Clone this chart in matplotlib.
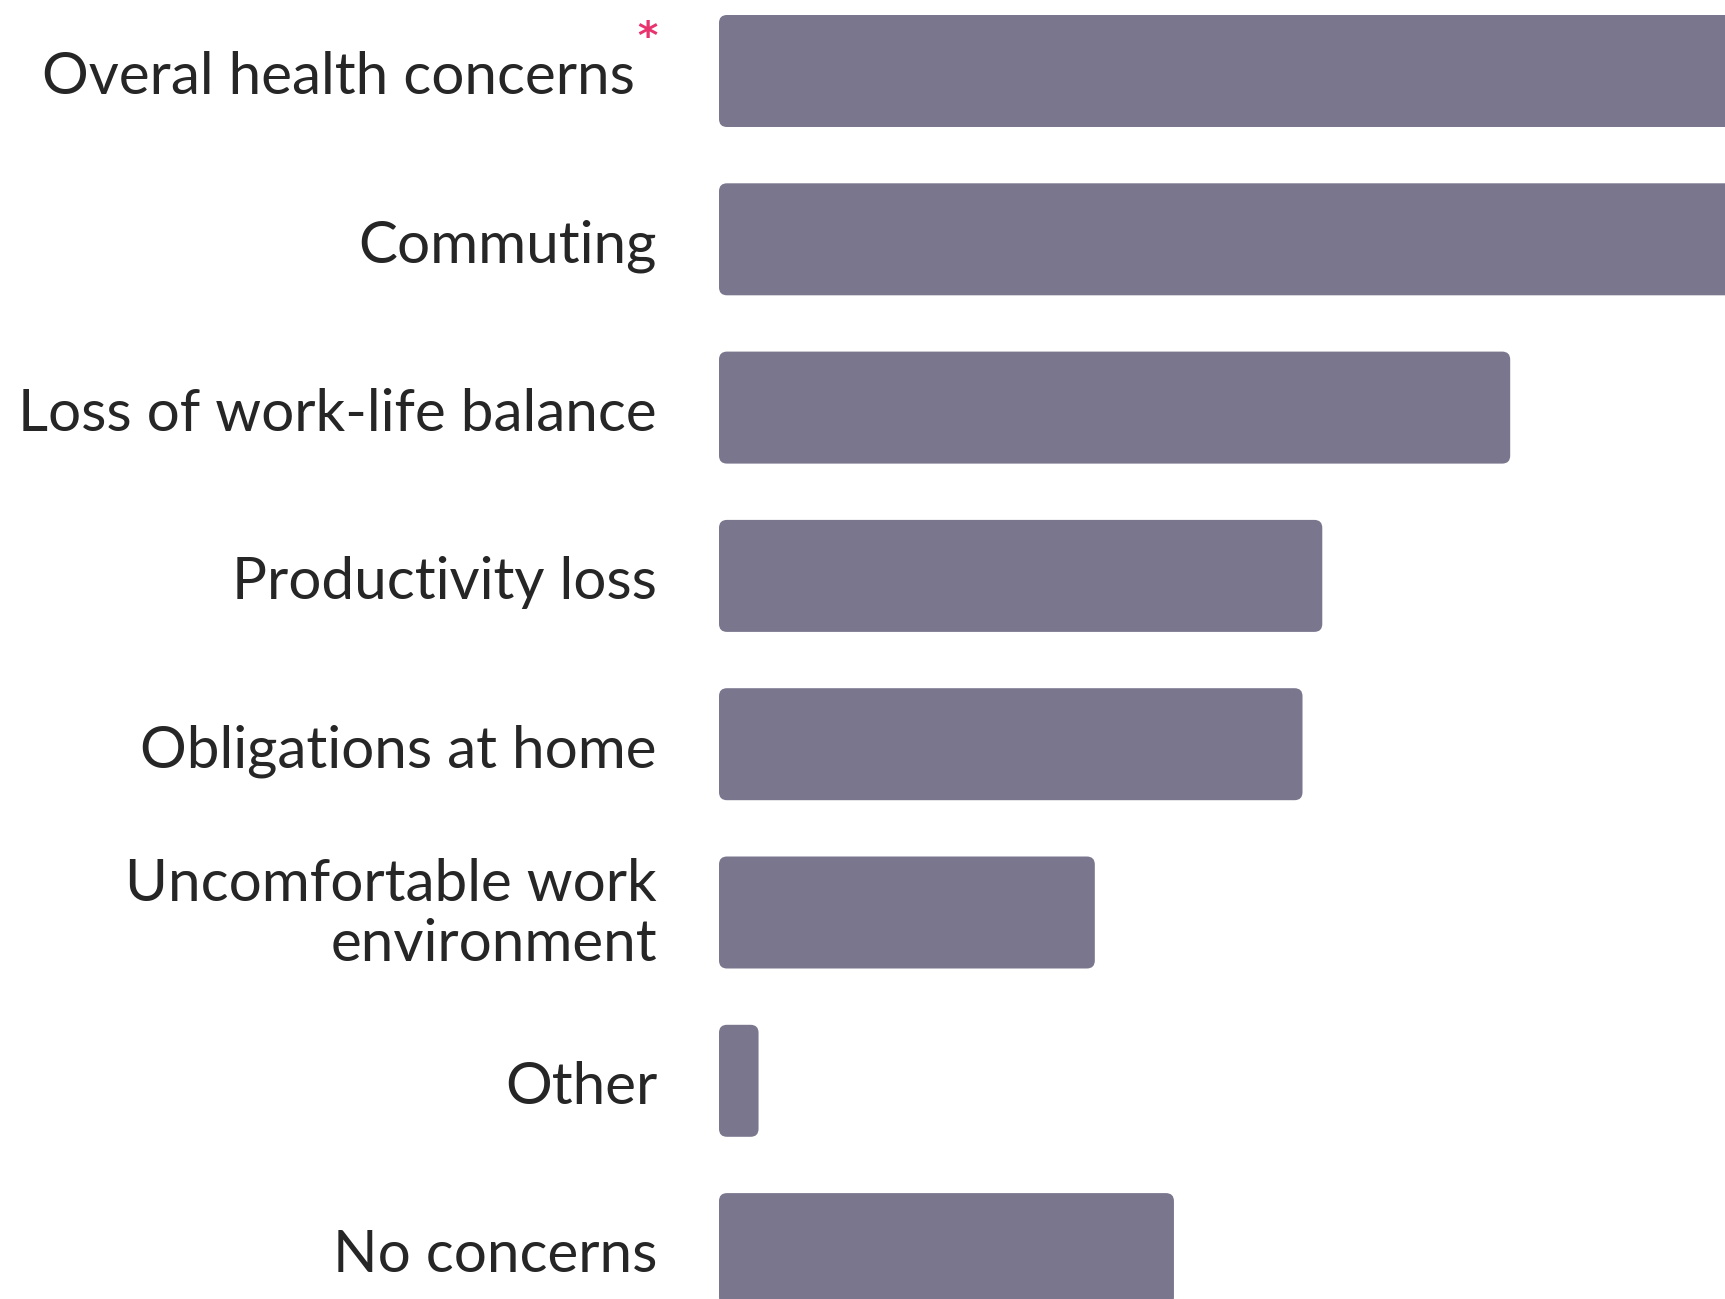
import matplotlib.pyplot as plt
from matplotlib.patches import FancyBboxPatch

# survey answers, share of respondents (%)
categories = [
    'Overal health concerns',
    'Commuting',
    'Loss of work-life balance',
    'Productivity loss',
    'Obligations at home',
    'Uncomfortable work\nenvironment',
    'Other',
    'No concerns',
]
values = [62, 58, 40, 30.5, 29.5, 19, 2, 23]
starred = ['Overal health concerns']

bar_color = '#7a768e'
text_color = '#262626'
star_color = '#e8336f'

W, H = 1725, 1299
fig = plt.figure(figsize=(W / 100, H / 100), dpi=100)
ax = fig.add_axes([719 / W, 0, 1 - 719 / W, 1])

px_per_unit = 19.78
ax.set_xlim(0, (W - 719) / px_per_unit)
pitch = 168.3
top_c = 71
ax.set_ylim((H - top_c) / pitch, -top_c / pitch)
ax.axis('off')

bar_h = 112 / pitch
radius_x = 8 / px_per_unit
aspect = (8 / pitch) / radius_x

bars = ax.barh(range(len(values)), values, height=bar_h)
for rect in bars:
    x, y = rect.get_x(), rect.get_y()
    w, h = rect.get_width(), rect.get_height()
    rect.set_visible(False)
    ax.add_patch(FancyBboxPatch(
        (x, y), w, h,
        boxstyle=f'round,pad=0,rounding_size={radius_x}',
        mutation_aspect=aspect,
        facecolor=bar_color, edgecolor='none'))

fs = 42
style = dict(fontsize=fs, family='Lato', fontweight='normal', color=text_color)
label_x = 657 / W
for i, name in enumerate(categories):
    yc = top_c + i * pitch
    if '\n' in name:
        fig.text(label_x, 1 - (yc + 2) / H, name, ha='right', va='center',
                 linespacing=1.17, multialignment='right', **style)
    elif name in starred:
        fig.text(label_x - 22 / W, 1 - (yc + 23) / H, name, ha='right',
                 va='baseline', **style)
        fig.text(label_x - 10 / W, 1 - 38 / H, '*', ha='center', va='center',
                 fontsize=28, fontweight='bold', family='DejaVu Sans',
                 color=star_color)
    else:
        fig.text(label_x, 1 - (yc + 23) / H, name, ha='right', va='baseline',
                 **style)

fig.savefig('out.png', dpi=100, facecolor='white')
